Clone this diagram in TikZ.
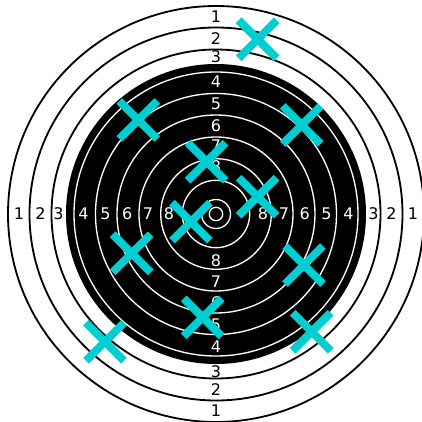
\documentclass[tikz,border=0pt]{standalone}
\usepackage{fontspec}
\setmainfont{DejaVu Sans}
\usepackage{tikz}
\definecolor{hitcyan}{RGB}{0, 206, 209}

\begin{document}
\begin{tikzpicture}[x=0.025cm, y=0.025cm,
    ring/.style={draw=black, line width=1.3pt},
    wring/.style={draw=white, line width=0.95pt},
    lbl/.style={font=\fontsize{11.4}{13}\selectfont, inner sep=0pt},
    hit/.style={draw=hitcyan, line width=5.7pt}]
  \useasboundingbox (-216,-208) rectangle (206,214);
  \clip (-216,-208) rectangle (206,214);
  \fill[white] (-216,-208) rectangle (206,214);
  % outer rings
  \foreach \r in {208, 186.5, 164.5}
    \draw[ring] (0,0) circle (\r);
  % black disc and inner rings
  \fill[black] (0,0) circle (150);
  \foreach \r in {142, 120.5, 99, 77, 55.3, 33.7, 14.5, 6.7}
    \draw[wring] (0,0) circle (\r);
  % ring numbers
  \foreach \k/\d in {1/197, 2/175.5, 3/157.5, 4/132.5, 5/110.5, 6/88.8, 7/68, 8/47} {
    \ifnum\k<4 \def\lc{black}\else \def\lc{white}\fi
    \node[lbl, text=\lc] (top\k)   at (0,\d)  {\k};
    \node[lbl, text=\lc] (bot\k)   at (0,-\d) {\k};
    \node[lbl, text=\lc] (left\k)  at (-\d,0) {\k};
    \node[lbl, text=\lc] (right\k) at (\d,0)  {\k};
  }
  % shots
  \foreach \x/\y in {41.7/174.7, -77.7/94, 85.7/89, -9.3/52.3, 41.7/17.3, -25/-7.7,
                     -84.3/-39.3, 88/-51, -13.3/-103.3, 95.7/-117.7, -111/-127.7}
    \draw[hit] (\x,\y) ++(-19,-19) -- ++(38,38) (\x,\y) ++(-19,19) -- ++(38,-38);
\end{tikzpicture}
\end{document}
